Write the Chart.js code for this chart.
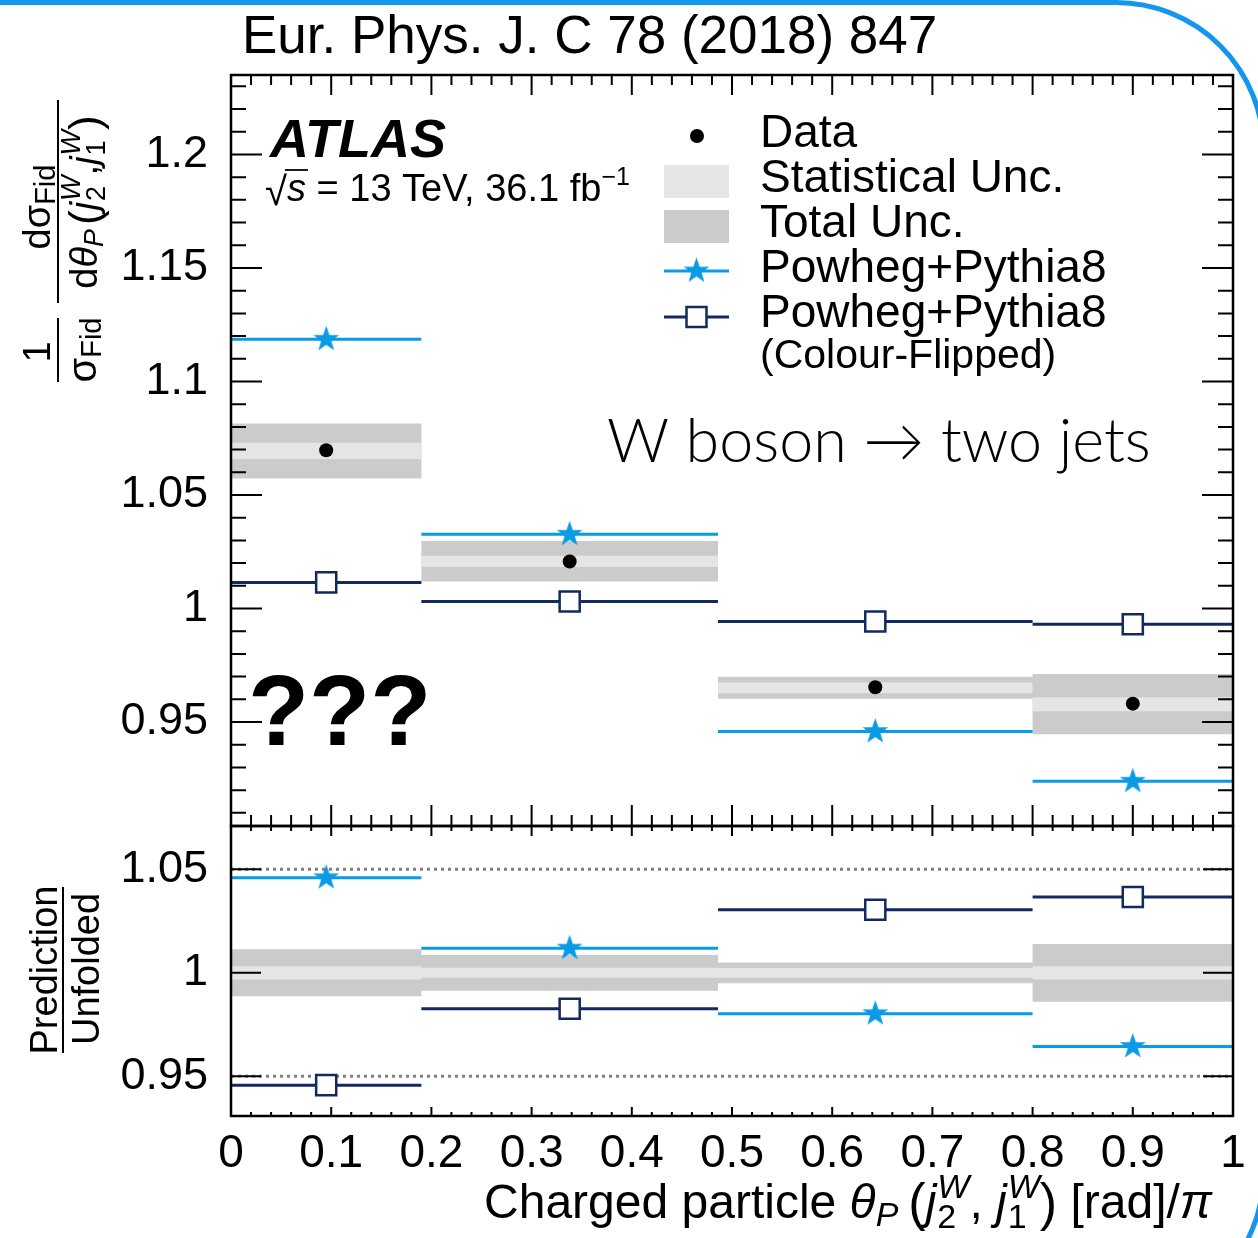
<!DOCTYPE html>
<html>
<head>
<meta charset="utf-8">
<script src="https://cdn.jsdelivr.net/npm/chart.js@4.4.1/dist/chart.umd.min.js"></script>
<style>
  html, body { margin: 0; padding: 0; background: #fff; overflow: hidden; }
  #wrap { position: relative; width: 1258px; height: 1238px; overflow: hidden; }
  #frame {
    position: absolute; left: -20px; top: 0; width: 1286px; height: 1323px;
    box-sizing: border-box; border: 5px solid #1296ee;
    border-radius: 0 150px 150px 0;
  }
  canvas { position: absolute; left: 0; top: 0; }
</style>
</head>
<body>
<div id="wrap">
  <div id="frame"></div>
  <canvas id="main" width="1258" height="1238"></canvas>
  <canvas id="ratio" width="1258" height="1238"></canvas>
</div>
<script>
// bins in theta_P / pi
const binEdges = [0, 0.19, 0.486, 0.8, 1];
const binCentres = [0.095, 0.338, 0.643, 0.9];

// normalised cross-section
const dataValues = [1.0697, 1.0207, 0.9653, 0.9581];
const statLow = [1.0659, 1.0183, 0.9627, 0.9548];
const statHigh = [1.0730, 1.0232, 0.9674, 0.9609];
const totalLow = [1.0573, 1.0119, 0.9602, 0.9446];
const totalHigh = [1.0815, 1.0297, 0.9699, 0.9712];
const powheg = [1.1186, 1.0327, 0.9458, 0.9239];
const flipped = [1.0115, 1.0031, 0.9943, 0.9931];

// prediction / unfolded
const ratioPowheg = [1.0459, 1.0119, 0.9802, 0.9644];
const ratioFlipped = [0.9457, 0.9826, 1.0304, 1.0366];
const ratioStatLow = [0.9968, 0.9976, 0.9976, 0.9968];
const ratioStatHigh = [1.0032, 1.0024, 1.0023, 1.0032];
const ratioTotalLow = [0.9887, 0.9913, 0.9949, 0.9860];
const ratioTotalHigh = [1.0114, 1.0086, 1.0050, 1.0139];
const ratioRefLines = [0.95, 1.05];

// axes
const xTicks = [0, 0.1, 0.2, 0.3, 0.4, 0.5, 0.6, 0.7, 0.8, 0.9, 1];
const mainYTicks = [0.95, 1, 1.05, 1.1, 1.15, 1.2];
const ratioYTicks = [0.95, 1, 1.05];

const FONT = '"Liberation Sans", Arial, Helvetica, sans-serif';
const BLUE = '#0a9be6';
const NAVY = '#14295e';
const TOTAL = '#cbcbcb';
const STAT = '#e5e5e5';

// ---- helpers to turn bin values into points ----
function binSegments(values) {
  const pts = [];
  values.forEach((v, i) => {
    pts.push({ x: binEdges[i], y: v }, { x: binEdges[i + 1], y: v });
    if (i < values.length - 1) pts.push({ x: binEdges[i + 1], y: null });
  });
  return pts;
}
function stepEdge(values) {
  const pts = values.map((v, i) => ({ x: binEdges[i], y: v }));
  pts.push({ x: binEdges[values.length], y: values[values.length - 1] });
  return pts;
}
function atCentres(values) {
  return values.map((v, i) => ({ x: binCentres[i], y: v }));
}

function starImage(r, color) {
  const c = document.createElement('canvas');
  const s = Math.ceil(r * 2 + 2);
  c.width = c.height = s;
  const g = c.getContext('2d');
  g.translate(s / 2, s / 2);
  g.beginPath();
  for (let k = 0; k < 10; k++) {
    const rad = k % 2 ? r * 0.4 : r;
    const a = -Math.PI / 2 + k * Math.PI / 5;
    g.lineTo(rad * Math.cos(a), rad * Math.sin(a));
  }
  g.closePath();
  g.fillStyle = color;
  g.fill();
  return c;
}
const star = starImage(13.5, BLUE);

function bandSets(lo, hi, colour, order) {
  const base = { stepped: 'before', pointRadius: 0, borderWidth: 0, borderColor: 'rgba(0,0,0,0)', order };
  return [
    Object.assign({ data: stepEdge(hi), fill: '+1', backgroundColor: colour }, base),
    Object.assign({ data: stepEdge(lo), fill: false }, base)
  ];
}
function modelSets(values, colour, marker) {
  const line = { data: binSegments(values), borderColor: colour, borderWidth: 3, pointRadius: 0, fill: false, order: 2 };
  const pts = { data: atCentres(values), showLine: false, order: 1 };
  if (marker === 'star') {
    Object.assign(pts, { pointStyle: star, pointRadius: 12 });
  } else {
    Object.assign(pts, { pointStyle: 'rect', pointRadius: 14.2, borderWidth: 2.5, borderColor: colour, backgroundColor: '#fff' });
  }
  return [line, pts];
}

// ---- text helpers ----
function font(size, style) { return (style || '') + ' ' + size + 'px ' + FONT; }
function partWidth(ctx, p) {
  ctx.font = font(p.s, p.f);
  if (p.sup !== undefined) {
    return Math.max(ctx.measureText(p.sup).width, ctx.measureText(p.sub).width) + (p.k || 0);
  }
  return ctx.measureText(p.t).width + (p.k || 0);
}
function drawRich(ctx, parts, x, y, align) {
  let w = 0;
  parts.forEach(p => { w += partWidth(ctx, p); });
  let cx = align === 'center' ? x - w / 2 : align === 'right' ? x - w : x;
  ctx.textAlign = 'left';
  ctx.textBaseline = 'alphabetic';
  parts.forEach(p => {
    const adv = partWidth(ctx, p);
    ctx.font = font(p.s, p.f);
    if (p.sup !== undefined) {
      ctx.fillText(p.sup, cx, y + p.up);
      ctx.font = font(p.s, '');
      ctx.fillText(p.sub, cx + (p.subShift || 0), y + p.down);
    } else {
      ctx.fillText(p.t, cx, y + (p.dy || 0));
    }
    cx += adv;
  });
  return w;
}
// rotated text reading bottom to top; baseline is a screen x
function drawRichUp(ctx, parts, centreY, baseX) {
  ctx.save();
  ctx.translate(baseX, centreY);
  ctx.rotate(-Math.PI / 2);
  drawRich(ctx, parts, 0, 0, 'center');
  ctx.restore();
}

function drawTicks(ctx, chart, spec) {
  const a = chart.chartArea;
  const x = chart.scales.x, y = chart.scales.y;
  ctx.strokeStyle = '#000';
  ctx.lineWidth = 2;
  ctx.beginPath();
  for (let i = 1; i < 50; i++) {
    const px = x.getPixelForValue(i / 50);
    const major = i % 5 === 0;
    const t = major ? spec.xTop[0] : spec.xTop[1];
    const b = major ? spec.xBottom[0] : spec.xBottom[1];
    ctx.moveTo(px, a.top); ctx.lineTo(px, a.top + t);
    ctx.moveTo(px, a.bottom); ctx.lineTo(px, a.bottom - b);
  }
  spec.yMajor.forEach(v => {
    const py = y.getPixelForValue(v);
    ctx.moveTo(a.left, py); ctx.lineTo(a.left + spec.yLen[0], py);
    ctx.moveTo(a.right, py); ctx.lineTo(a.right - spec.yLen[0], py);
  });
  if (spec.yMinorStep) {
    const lo = Math.ceil(y.min / spec.yMinorStep), hi = Math.floor(y.max / spec.yMinorStep);
    for (let k = lo; k <= hi; k++) {
      const py = y.getPixelForValue(k * spec.yMinorStep);
      ctx.moveTo(a.left, py); ctx.lineTo(a.left + spec.yLen[1], py);
      ctx.moveTo(a.right, py); ctx.lineTo(a.right - spec.yLen[1], py);
    }
  }
  ctx.stroke();
  ctx.lineWidth = 2.5;
  ctx.strokeRect(a.left, a.top, a.right - a.left, a.bottom - a.top);
}

// ---- decorations of the upper panel ----
const mainDecor = {
  id: 'mainDecor',
  afterDraw(chart) {
    const ctx = chart.ctx;
    ctx.save();
    drawTicks(ctx, chart, { xTop: [20, 10], xBottom: [21, 11], yMajor: mainYTicks, yLen: [31, 15], yMinorStep: 0.01 });
    ctx.fillStyle = '#000';

    // journal reference
    ctx.font = font(53);
    ctx.textAlign = 'left';
    ctx.textBaseline = 'alphabetic';
    ctx.fillText('Eur. Phys. J. C 78 (2018) 847', 242, 53);

    // ATLAS label
    ctx.font = font(54, 'italic bold');
    ctx.fillText('ATLAS', 270, 157);
    const sx = 265, sy = 201;
    ctx.font = font(40);
    ctx.fillText('\u221A', sx, sy + 4);
    const rw = ctx.measureText('\u221A').width;
    ctx.font = font(38, 'italic');
    ctx.fillText('s', sx + rw, sy);
    const sw = ctx.measureText('s').width;
    ctx.lineWidth = 1.8;
    ctx.beginPath();
    ctx.moveTo(sx + rw - 2, sy - 31);
    ctx.lineTo(sx + rw + sw + 2, sy - 31);
    ctx.stroke();
    drawRich(ctx, [
      { t: ' = 13 TeV, 36.1 fb', s: 38 },
      { t: '\u22121', s: 25, dy: -16 }
    ], sx + rw + sw, sy, 'left');

    // legend
    ctx.beginPath();
    ctx.arc(697, 136, 7, 0, Math.PI * 2);
    ctx.fill();
    ctx.fillStyle = STAT;
    ctx.fillRect(664, 165, 65, 33);
    ctx.fillStyle = TOTAL;
    ctx.fillRect(664, 210, 65, 33);
    ctx.lineWidth = 3;
    ctx.strokeStyle = BLUE;
    ctx.beginPath(); ctx.moveTo(664, 271); ctx.lineTo(729, 271); ctx.stroke();
    ctx.drawImage(star, 696.5 - star.width / 2, 271 - star.height / 2);
    ctx.strokeStyle = NAVY;
    ctx.beginPath(); ctx.moveTo(664, 317); ctx.lineTo(729, 317); ctx.stroke();
    ctx.fillStyle = '#fff';
    ctx.fillRect(686.5, 307, 20, 20);
    ctx.lineWidth = 2.5;
    ctx.strokeRect(686.5, 307, 20, 20);
    ctx.fillStyle = '#000';
    ctx.font = font(46);
    ctx.fillText('Data', 760, 147);
    ctx.fillText('Statistical Unc.', 760, 192);
    ctx.fillText('Total Unc.', 760, 237);
    ctx.fillText('Powheg+Pythia8', 760, 282);
    ctx.fillText('Powheg+Pythia8', 760, 327);
    ctx.font = font(41);
    ctx.fillText('(Colour-Flipped)', 760, 368);

    // process label
    ctx.font = '300 61px Lato, "Open Sans", sans-serif';
    ctx.fillText('W boson \u2192 two jets', 607, 462);

    ctx.font = font(100, 'bold');
    ctx.fillText('???', 248, 745);

    // y-axis title
    ctx.lineWidth = 2;
    ctx.strokeStyle = '#000';
    ctx.beginPath();
    ctx.moveTo(58, 318); ctx.lineTo(58, 382);
    ctx.moveTo(58, 100); ctx.lineTo(58, 303);
    ctx.stroke();
    drawRichUp(ctx, [{ t: '1', s: 38 }], 352, 50);
    drawRichUp(ctx, [{ t: '\u03C3', s: 40 }, { t: 'Fid', s: 29, dy: 5 }], 350, 96);
    drawRichUp(ctx, [{ t: 'd\u03C3', s: 38 }, { t: 'Fid', s: 29, dy: 5 }], 207, 50);
    drawRichUp(ctx, [
      { t: 'd', s: 38 }, { t: '\u03B8', s: 38, f: 'italic' }, { t: 'P', s: 27, f: 'italic', dy: 6, k: 4 },
      { t: '(', s: 44, dy: 3 }, { t: 'j', s: 38, f: 'italic', k: 1 },
      { sup: 'W', sub: '2', s: 27, f: 'italic', up: -17, down: 8 },
      { t: ',', s: 38 }, { t: 'j', s: 38, f: 'italic', k: 1 },
      { sup: 'W', sub: '1', s: 27, f: 'italic', up: -17, down: 8 },
      { t: ')', s: 44, dy: 3 }
    ], 202, 97);
    ctx.restore();
  }
};

// ---- decorations of the ratio panel ----
const ratioDecor = {
  id: 'ratioDecor',
  afterDraw(chart) {
    const ctx = chart.ctx;
    ctx.save();
    drawTicks(ctx, chart, { xTop: [10, 5], xBottom: [9, 4], yMajor: ratioYTicks, yLen: [30, 0] });
    ctx.fillStyle = '#000';

    // y-axis title
    ctx.lineWidth = 2;
    ctx.beginPath(); ctx.moveTo(63, 887); ctx.lineTo(63, 1053); ctx.stroke();
    drawRichUp(ctx, [{ t: 'Prediction', s: 38 }], 970, 57);
    drawRichUp(ctx, [{ t: 'Unfolded', s: 38 }], 969, 99);

    // x-axis title
    drawRich(ctx, [
      { t: 'Charged particle ', s: 48 },
      { t: '\u03B8', s: 48, f: 'italic' }, { t: 'P', s: 34, f: 'italic', dy: 8, k: 10 },
      { t: '(', s: 52, dy: 2 }, { t: 'j', s: 48, f: 'italic', k: 1 },
      { sup: 'W', sub: '2', s: 34, f: 'italic', up: -20, down: 10 },
      { t: ', ', s: 48 }, { t: 'j', s: 48, f: 'italic', k: 1 },
      { sup: 'W', sub: '1', s: 34, f: 'italic', up: -20, down: 10 },
      { t: ')', s: 52, dy: 2 }, { t: ' [rad]/', s: 48 }, { t: '\u03C0', s: 48, f: 'italic' }
    ], 1212, 1218, 'right');
    ctx.restore();
  }
};

const commonOpts = {
  responsive: false,
  animation: false,
  events: [],
  plugins: { legend: { display: false }, tooltip: { enabled: false } }
};

function yScale(min, max, ticks) {
  return {
    type: 'linear', min, max,
    afterFit: s => { s.width = 231; },
    afterBuildTicks: s => { s.ticks = ticks.map(v => ({ value: v })); },
    grid: { display: false, drawTicks: false },
    border: { display: false },
    ticks: { padding: 23, color: '#000', font: { family: FONT, size: 45 }, callback: v => String(v) }
  };
}

new Chart(document.getElementById('main'), {
  type: 'line',
  data: {
    datasets: [
      { data: atCentres(dataValues), showLine: false, pointStyle: 'circle', pointRadius: 7, backgroundColor: '#000', borderWidth: 0, order: 0 },
      ...modelSets(powheg, BLUE, 'star'),
      ...modelSets(flipped, NAVY, 'square'),
      ...bandSets(statLow, statHigh, STAT, 4),
      ...bandSets(totalLow, totalHigh, TOTAL, 5)
    ]
  },
  options: Object.assign({}, commonOpts, {
    layout: { padding: { top: 75, right: 25, bottom: 412, left: 0 } },
    scales: {
      x: { type: 'linear', min: 0, max: 1, display: false },
      y: yScale(0.9042, 1.235, mainYTicks)
    }
  }),
  plugins: [mainDecor]
});

new Chart(document.getElementById('ratio'), {
  type: 'line',
  data: {
    datasets: [
      ...modelSets(ratioPowheg, BLUE, 'star'),
      ...modelSets(ratioFlipped, NAVY, 'square'),
      ...ratioRefLines.map(v => ({
        data: [{ x: 0, y: v }, { x: 1, y: v }], borderColor: '#808080', borderWidth: 3,
        borderDash: [3, 4], pointRadius: 0, fill: false, order: 3
      })),
      ...bandSets(ratioStatLow, ratioStatHigh, STAT, 4),
      ...bandSets(ratioTotalLow, ratioTotalHigh, TOTAL, 5)
    ]
  },
  options: Object.assign({}, commonOpts, {
    layout: { padding: { top: 826, right: 25, bottom: 0, left: 0 } },
    scales: {
      x: {
        type: 'linear', min: 0, max: 1, position: 'bottom',
        afterFit: s => { s.height = 122; },
        afterBuildTicks: s => { s.ticks = xTicks.map(v => ({ value: v })); },
        grid: { display: false, drawTicks: false },
        border: { display: false },
        ticks: { padding: 11, autoSkip: false, maxRotation: 0, color: '#000', font: { family: FONT, size: 46 }, callback: v => String(v) }
      },
      y: yScale(0.9308, 1.0709, ratioYTicks)
    }
  }),
  plugins: [ratioDecor]
});
</script>
</body>
</html>
